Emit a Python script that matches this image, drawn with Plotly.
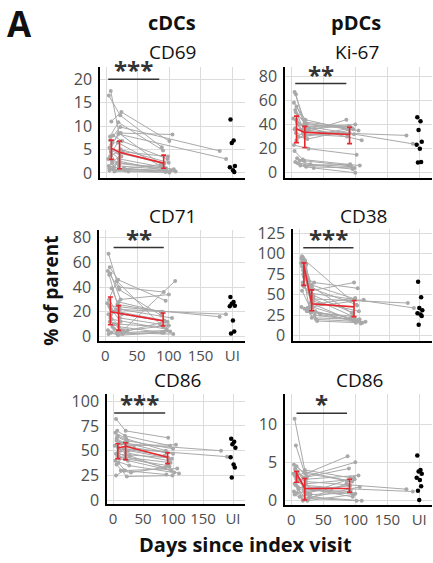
import plotly.graph_objects as go

W, H = 433, 563

# ---------------- data ----------------
# visit days per subject (first, second, third visit); None = missing
subject_days = [
    [5, 21, 92], [7, 20, 95], [4, 22, 88], [8, 24, 100], [6, 19, 90],
    [10, 23, 105], [3, 18, 86], [9, 26, 98], [12, 21, 93], [5, 28, 110],
    [7, 20, 91], [11, 25, 97], [6, 22, 180], [8, 19, 190], [4, 27, 102],
    [9, 20, 89], [13, 30, 94], [6, 23, 99], [10, None, 96], [None, 21, 92],
    [7, 24, None], [5, 18, 107], [14, 35, 100], [8, 21, 87],
]

cdc_cd69 = [
    [5.4, 4.2, 2.0], [17.5, 8.5, 1.0], [16.5, 12.3, 5.5], [11.0, 13.0, 6.8], [7.8, 10.8, 4.8],
    [6.5, 8.5, 8.2], [3.0, 6.5, 1.5], [2.0, 4.5, 3.5], [1.2, 2.5, 0.5], [0.5, 1.0, 0.3],
    [4.5, 3.0, 1.2], [8.0, 6.8, 3.0], [7.0, 9.8, 4.7], [6.0, 8.3, 3.0], [1.5, 0.8, 0.5],
    [2.5, 1.5, 0.8], [0.3, 0.5, 0.2], [3.5, 5.0, 2.2], [0.8, None, 0.4], [None, 2.0, 1.0],
    [5.0, 3.5, None], [1.0, 2.2, 0.8], [0.5, 0.3, 0.1], [4.0, 0.8, 1.8],
]
pdc_ki67 = [
    [67, 42, 38], [65, 40, 37], [58, 44, 36], [55, 38, 40], [52, 36, 39],
    [48, 41, 35], [45, 33, 44], [42, 35, 32], [40, 30, 37], [36, 37, 27],
    [33, 31, 33], [30, 28, 36], [37, 34, 31], [44, 39, 24], [23, 20, 15],
    [12, 10, 6], [10, 7, 5], [9, 5, 4], [8, None, 3], [None, 6, 7],
    [50, 39, None], [18, 11, 6], [6, 4, 0], [27, 32, 30],
]
cdc_cd71 = [
    [67, 40, 36], [56, 46, 29], [53, 38, 17], [51, 30, 34], [50, 26, 20],
    [39, 22, 15], [27, 45, 10], [22, 18, 12], [20, 20, 13], [18, 5, 45],
    [12, 10, 8], [8, 3, 5], [25, 24, 16], [17, 22, 18], [5, 2, 4],
    [3, 1, 3], [10, 4, 12], [30, 15, 9], [14, None, 6], [None, 8, 3],
    [24, 12, None], [2, 3, 2], [6, 5, 9], [15, 28, 20],
]
pdc_cd38 = [
    [97, 62, 45], [95, 58, 38], [94, 50, 28], [93, 45, 20], [92, 40, 18],
    [90, 35, 16], [89, 30, 22], [88, 25, 19], [87, 38, 46], [85, 20, 17],
    [75, 55, 65], [70, 65, 58], [65, 45, 40], [60, 52, 34], [35, 30, 15],
    [33, 28, 24], [30, 18, 16], [62, 42, 30], [92, None, 37], [None, 22, 20],
    [80, 48, None], [55, 35, 44], [34, 26, 18], [72, 60, 28],
]
cdc_cd86 = [
    [82, 70, 63], [70, 65, 55], [68, 62, 50], [65, 60, 52], [62, 58, 48],
    [58, 55, 56], [55, 52, 45], [52, 50, 42], [50, 48, 40], [47, 45, 27],
    [45, 42, 35], [42, 40, 30], [60, 57, 50], [54, 52, 44], [40, 35, 28],
    [38, 30, 26], [30, 28, 34], [36, 24, 25], [44, None, 38], [None, 46, 43],
    [64, 59, None], [25, 30, 32], [57, 53, 47], [48, 44, 33],
]
pdc_cd86 = [
    [10.7, 4.0, 3.0], [7.2, 3.8, 2.5], [4.7, 3.5, 5.8], [4.5, 3.2, 5.0], [4.0, 3.0, 4.2],
    [3.8, 2.8, 3.3], [3.5, 0.0, 2.2], [3.0, 1.0, 3.0], [2.5, 2.0, 1.5], [2.2, 0.5, 0.0],
    [2.0, 1.5, 1.2], [1.5, 0.0, 0.8], [3.2, 2.5, 1.5], [2.8, 1.8, 1.2], [1.2, 0.3, 0.0],
    [1.0, 1.2, 2.0], [0.5, 0.8, 1.0], [4.2, 2.2, 2.8], [1.8, None, 0.5], [None, 1.0, 2.0],
    [3.6, 3.0, None], [0.8, 0.2, 1.8], [2.6, 1.4, 0.9], [3.3, 3.6, 2.6],
]

# median and IQR per visit (red)
median_days = [8, 21, 91]
cd69_med, cd69_lo, cd69_hi = [5.3, 4.4, 2.1], [2.9, 0.9, 1.0], [7.0, 6.8, 3.8]
ki67_med, ki67_lo, ki67_hi = [36.4, 33.5, 31.8], [25, 21, 24.2], [47, 38.5, 37.7]
cd71_med, cd71_lo, cd71_hi = [20, 18.8, 12.7], [9.5, 5, 8.5], [32, 25, 19]
cd38_med, cd38_lo, cd38_hi = [86, 39, 35.3], [61.5, 30.5, 23.4], [89, 56, 43]
cd86c_med, cd86c_lo, cd86c_hi = [52.7, 54.5, 43.5], [42, 41, 37], [57, 58, 48]
cd86p_med, cd86p_lo, cd86p_hi = [3.6, 1.6, 1.6], [2.4, 0.1, 1.1], [3.8, 2.9, 2.8]

# uninfected controls (UI)
ui_value = 200
ui_cd69 = [11.4, 6.9, 6.4, 1.5, 1.2, 0.6, 0.2]
ui_ki67 = [46, 42.8, 35.5, 25.8, 23.2, 20, 9, 8.5]
ui_cd71 = [32, 28, 26.5, 25, 24.5, 13, 4, 2.5]
ui_cd38 = [66, 47, 34, 31, 27.5, 26, 24, 13.5]
ui_cd86c = [62, 59, 56.5, 53, 43.5, 36, 33, 23]
ui_cd86p = [5.9, 4.0, 3.8, 3.5, 3.0, 2.7, 1.9, 1.3, 0.1]
ui_jitter = [-3, 2, -1, 4, -4, 1, 3, -2, 0]

# significance
sig_labels = ["***", "**", "**", "***", "***", "*"]
sig_x0 = [3, 6, 13, 7, 2, 8]
sig_x1 = [84, 86, 92, 90, 87, 87]
sig_y = [20, 74, 72, 107.5, 88, 11.4]

x_tickvals = [0, 50, 100, 150, 200]
x_ticktext = ["0", "50", "100", "150", "UI"]

panel_titles = ["CD69", "Ki-67", "CD71", "CD38", "CD86", "CD86"]
panel_data = [cdc_cd69, pdc_ki67, cdc_cd71, pdc_cd38, cdc_cd86, pdc_cd86]
panel_med = [(cd69_med, cd69_lo, cd69_hi), (ki67_med, ki67_lo, ki67_hi),
             (cd71_med, cd71_lo, cd71_hi), (cd38_med, cd38_lo, cd38_hi),
             (cd86c_med, cd86c_lo, cd86c_hi), (cd86p_med, cd86p_lo, cd86p_hi)]
panel_ui = [ui_cd69, ui_ki67, ui_cd71, ui_cd38, ui_cd86c, ui_cd86p]
panel_yticks = [[0, 5, 10, 15, 20], [0, 20, 40, 60, 80], [0, 20, 40, 60, 80],
                [0, 25, 50, 75, 100, 125], [0, 25, 50, 75, 100], [0, 5, 10]]

# ---------------- layout (pixels) ----------------
panel_xpx = [(100, 245), (285, 432), (99, 245), (293, 432), (107, 245), (285, 432)]
panel_ypx = [(62, 175), (62, 175), (229, 343), (228, 343), (397, 510), (397, 511)]
panel_yrange = [[-1, 22.5], [-4, 87.3], [-4, 86], [-7, 130], [-4, 107], [-0.6, 13.9]]
panel_show_x = [False, False, True, False, True, True]
panel_title_px = [(172, 46), (357, 46), (172, 214), (363, 214), (177, 382), (359, 382)]
x_range = [-10, 220]

GRAY = "#a9a9a9"
RED = "#e8262d"
FONT = "Open Sans"

fig = go.Figure()
layout = dict(
    width=W, height=H, margin=dict(l=0, r=0, t=0, b=0),
    paper_bgcolor="white", plot_bgcolor="white", showlegend=False,
    font=dict(family=FONT, color="#000"),
)
shapes, annotations = [], []


def px(xp):
    return xp / W


def py(yp):
    return 1 - yp / H


for i in range(6):
    n = i + 1
    xa = "x" if n == 1 else f"x{n}"
    ya = "y" if n == 1 else f"y{n}"
    xs, ys = [], []
    for days, vals in zip(subject_days, panel_data[i]):
        pts = [(d, v) for d, v in zip(days, vals) if d is not None and v is not None]
        for d, v in pts:
            xs.append(d)
            ys.append(v)
        xs.append(None)
        ys.append(None)
    fig.add_trace(go.Scatter(
        x=xs, y=ys, mode="lines+markers", xaxis=xa, yaxis=ya,
        line=dict(color=GRAY, width=1), marker=dict(color=GRAY, size=4),
        connectgaps=False, hoverinfo="skip"))
    med, lo, hi = panel_med[i]
    fig.add_trace(go.Scatter(
        x=median_days, y=med, mode="lines", xaxis=xa, yaxis=ya,
        line=dict(color=RED, width=1.6),
        error_y=dict(type="data", symmetric=False,
                     array=[h - m for h, m in zip(hi, med)],
                     arrayminus=[m - l for m, l in zip(med, lo)],
                     color=RED, thickness=1.6, width=2.5),
        hoverinfo="skip"))
    ui = panel_ui[i]
    fig.add_trace(go.Scatter(
        x=[ui_value + ui_jitter[k % len(ui_jitter)] for k in range(len(ui))], y=ui,
        mode="markers", xaxis=xa, yaxis=ya,
        marker=dict(color="black", size=4.5), hoverinfo="skip"))

    x0, x1 = panel_xpx[i]
    y0, y1 = panel_ypx[i]
    axkey_x = "xaxis" if n == 1 else f"xaxis{n}"
    axkey_y = "yaxis" if n == 1 else f"yaxis{n}"
    layout[axkey_x] = dict(
        domain=[px(x0), px(x1)], anchor=ya, range=x_range,
        tickvals=x_tickvals, ticktext=x_ticktext, showticklabels=panel_show_x[i],
        showgrid=True, gridcolor="#dcdcdc", gridwidth=1, zeroline=False,
        showline=True, linecolor="black", linewidth=1.5, ticks="",
        ticklabelstandoff=0,
        tickfont=dict(family=FONT, size=15, color="#4d4d4d"),
    )
    layout[axkey_y] = dict(
        domain=[py(y1), py(y0)], anchor=xa, range=panel_yrange[i],
        tickvals=panel_yticks[i], showgrid=True, gridcolor="#dcdcdc", gridwidth=1,
        zeroline=False, showline=True, linecolor="black", linewidth=1.5, ticks="",
        ticklabelstandoff=3,
        tickfont=dict(family=FONT, size=16, color="#4d4d4d"),
    )
    # significance bar
    shapes.append(dict(type="line", xref=xa, yref=ya, x0=sig_x0[i], x1=sig_x1[i],
                       y0=sig_y[i], y1=sig_y[i], line=dict(color="#333333", width=1.5)))
    annotations.append(dict(x=(sig_x0[i] + sig_x1[i]) / 2, y=sig_y[i], xref=xa, yref=ya,
                            text="<b>" + sig_labels[i] + "</b>", showarrow=False,
                            yanchor="bottom", yshift=-9,
                            font=dict(family=FONT, size=24, color="#333333")))
    tx, ty = panel_title_px[i]
    annotations.append(dict(x=px(tx), y=py(ty), xref="paper", yref="paper",
                            text=panel_titles[i], showarrow=False, xanchor="center",
                            yanchor="middle", font=dict(family=FONT, size=19, color="#111")))

annotations += [
    dict(x=px(19), y=py(17), xref="paper", yref="paper", text="<b>A</b>", showarrow=False,
         xanchor="center", yanchor="middle", font=dict(family=FONT, size=35, color="#111")),
    dict(x=px(172), y=py(16), xref="paper", yref="paper", text="<b>cDCs</b>", showarrow=False,
         xanchor="center", yanchor="middle", font=dict(family=FONT, size=20, color="#111")),
    dict(x=px(356), y=py(16), xref="paper", yref="paper", text="<b>pDCs</b>", showarrow=False,
         xanchor="center", yanchor="middle", font=dict(family=FONT, size=20, color="#111")),
    dict(x=px(51), y=py(291), xref="paper", yref="paper", text="<b>% of parent</b>",
         showarrow=False, textangle=-90, xanchor="center", yanchor="middle",
         font=dict(family=FONT, size=19, color="#111")),
    dict(x=px(245), y=py(551), xref="paper", yref="paper", text="<b>Days since index visit</b>",
         showarrow=False, xanchor="center", yanchor="middle",
         font=dict(family=FONT, size=20, color="#111")),
]
layout["shapes"] = shapes
layout["annotations"] = annotations
fig.update_layout(**layout)
fig.write_html(
    "out.html",
    config={"displayModeBar": False},
    post_script="document.body.style.margin='0';document.body.style.overflow='hidden';",
)
